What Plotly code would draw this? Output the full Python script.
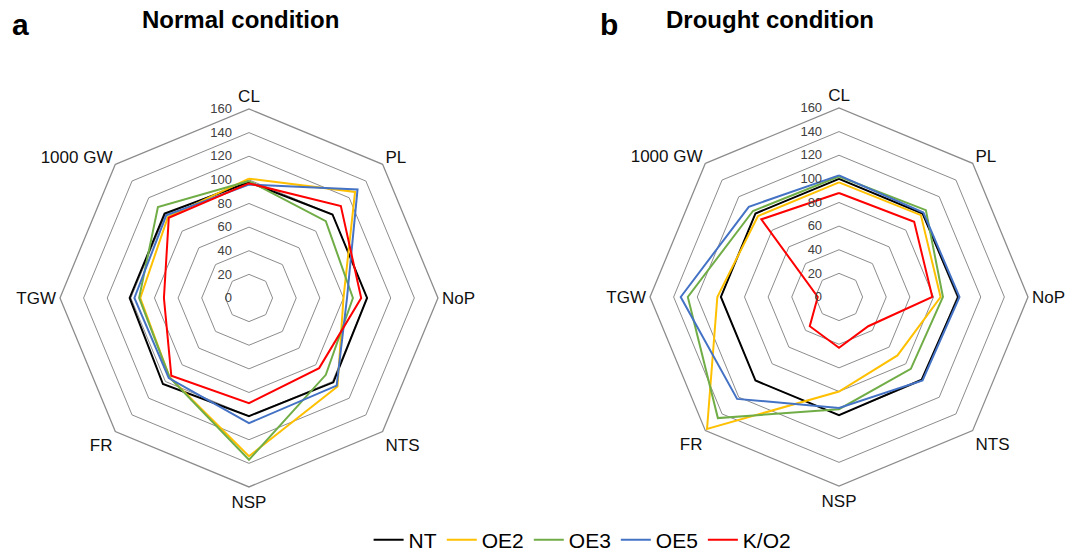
import plotly.graph_objects as go

categories = ["CL", "PL", "NoP", "NTS", "NSP", "FR", "TGW", "1000 GW"]
series_names = ["NT", "OE2", "OE3", "OE5", "K/O2"]
colors = ["#000000", "#FFC000", "#70AD47", "#4472C4", "#FF0000"]

# Normal condition
normal_NT = [98, 100, 100, 101, 100, 103, 101, 101]
normal_OE2 = [101, 127, 80, 106, 134, 95, 92, 97]
normal_OE3 = [99, 92, 88, 92, 137, 95, 93, 109]
normal_OE5 = [96, 130, 83, 105, 106, 96, 97, 99]
normal_KO2 = [97, 110, 95, 84, 89, 93, 72, 96]

# Drought condition
drought_NT = [100, 100, 101, 99, 100, 100, 100, 100]
drought_OE2 = [97, 98, 86, 70, 80, 158, 103, 97]
drought_OE3 = [102, 104, 88, 86, 95, 145, 128, 103]
drought_OE5 = [103, 101, 102, 100, 94, 122, 134, 108]
drought_KO2 = [88, 90, 79, 35, 43, 35, 18, 93]

radial_ticks = [0, 20, 40, 60, 80, 100, 120, 140, 160]

normal = [normal_NT, normal_OE2, normal_OE3, normal_OE5, normal_KO2]
drought = [drought_NT, drought_OE2, drought_OE3, drought_OE5, drought_KO2]

fig = go.Figure()
for name, col, vals in zip(series_names, colors, normal):
    fig.add_trace(go.Scatterpolar(
        r=vals + vals[:1], theta=categories + categories[:1], mode="lines",
        line=dict(color=col, width=2), name=name, subplot="polar", showlegend=True))
for name, col, vals in zip(series_names, colors, drought):
    fig.add_trace(go.Scatterpolar(
        r=vals + vals[:1], theta=categories + categories[:1], mode="lines",
        line=dict(color=col, width=2), name=name, subplot="polar2", showlegend=False))

# right-align the radial tick labels to the left of the vertical axis
FS = "\u2007"  # figure space (digit width)
tick_text = [FS * (3 - len(str(t))) + str(t) + FS * 2 for t in radial_ticks]

grid_col = "#8c8c8c"
def polar_layout(xd, yd):
    return dict(
        domain=dict(x=xd, y=yd),
        gridshape="linear",
        bgcolor="white",
        radialaxis=dict(range=[0, 160], tickvals=radial_ticks, ticktext=tick_text,
                        angle=90, tickangle=90, side="counterclockwise", showline=False,
                        gridcolor=grid_col, gridwidth=1.3, ticks="",
                        tickfont=dict(family="Liberation Sans, Arial", size=13, color="#404040")),
        angularaxis=dict(rotation=90, direction="clockwise", showgrid=False,
                         showline=True, linecolor=grid_col, linewidth=1.3, ticks="",
                         tickfont=dict(family="Liberation Sans, Arial", size=17, color="#111111")),
    )

W, H = 1069, 551
fig.update_layout(
    width=W, height=H,
    margin=dict(l=0, r=0, t=0, b=0, autoexpand=False),
    paper_bgcolor="white",
    polar=polar_layout([0.0561, 0.4097], [0.1162, 0.8022]),
    polar2=polar_layout([0.6080, 0.9617], [0.1180, 0.8040]),
    showlegend=True,
    legend=dict(orientation="h", x=0.545, xanchor="center", y=1 - 540 / H, yanchor="middle",
                font=dict(family="Liberation Sans, Arial", size=21, color="#000000"),
                itemwidth=30, tracegroupgap=0),
    font=dict(family="Liberation Sans, Arial"),
)

titles = [("<b>a</b>", 20, 24, 30), ("<b>b</b>", 609, 24, 30),
          ("<b>Normal condition</b>", 240, 20, 24), ("<b>Drought condition</b>", 770, 20, 24)]
fig.update_layout(annotations=[
    dict(text=t, x=px / W, y=1 - py / H, xref="paper", yref="paper", showarrow=False,
         xanchor="center", yanchor="middle", font=dict(size=s, color="black"))
    for t, px, py, s in titles])

fig.write_html("out.html")
